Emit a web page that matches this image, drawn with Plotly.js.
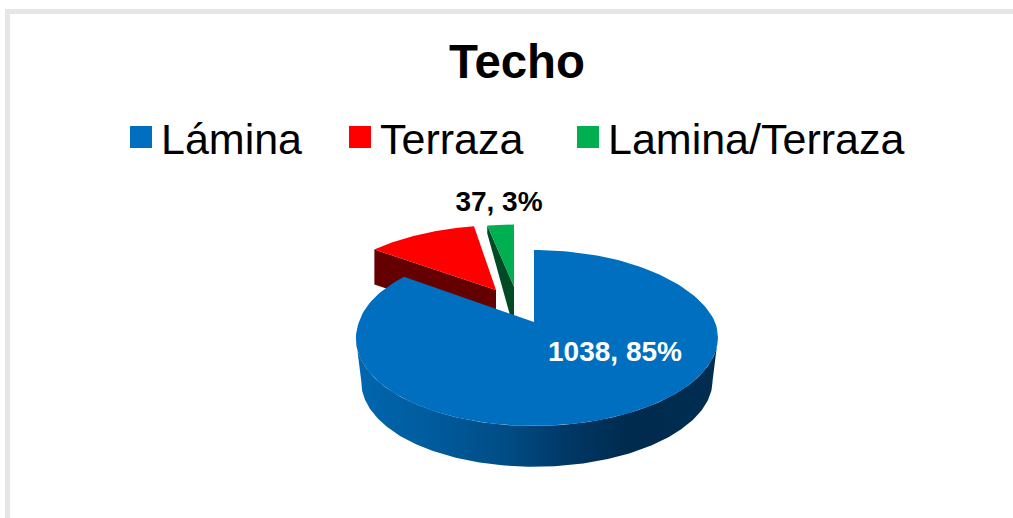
<!DOCTYPE html>
<html><head><meta charset="utf-8">
<script src="https://cdn.plot.ly/plotly-3.0.1.min.js"></script>
<style>html,body{margin:0;padding:0;background:#fff}#c{width:1013px;height:518px}</style>
</head><body><div id="c"></div>
<script>
var categories = ["Lámina", "Terraza", "Lamina/Terraza"];
var values = [1038, 146, 37];
var percents = [85, 12, 3];
var showLabel = [true, false, true];
var faceColors = ["#006FC0", "#FF0000", "#00B050"];
var wallColors = ["#0067AE", "#640000", "#004A25"];
var labelColors = ["#FFFFFF", "#000000", "#000000"];

// view geometry (axis units equal screen pixels)
var CX = 534, CY = 322, A = 178, B = 85, K = 0.182;
var explode = [[0, 0], [-0.229, -0.404], [0, -0.45]];
var shiftX = [0, 0, -20];
var radius = [1, 1.03, 1];
var lean = [3, 0, 0];
var labelPos = [[615, 354], null, [499, 204]];

function proj(u, v, i, o) {
  o = o || {};
  var s = 1 / (1 - K * v), f = o.f || 1;
  var w = Math.min(1, Math.max(0, (v + 0.6) / 0.6));
  return [CX + shiftX[i] + A * f * u * s + lean[i] * u * u * w, CY + (o.dy || 0) + B * f * v * s];
}
function disc(deg, i) {
  var t = deg * Math.PI / 180;
  return [radius[i] * Math.sin(t) + explode[i][0], -radius[i] * Math.cos(t) + explode[i][1]];
}
function xy(pts) {
  return {x: pts.map(function (p) { return p[0]; }), y: pts.map(function (p) { return p[1]; })};
}
var total = values.reduce(function (a, b) { return a + b; }, 0);
var bounds = [], acc = 0;
values.forEach(function (v) { bounds.push([acc * 360 / total, (acc + v) * 360 / total]); acc += v; });

function face(i) {
  var pts = [], b = bounds[i], n = 160;
  pts.push(proj(explode[i][0], explode[i][1], i));
  for (var k = 0; k <= n; k++) {
    var d = disc(b[0] + (b[1] - b[0]) * k / n, i);
    pts.push(proj(d[0], d[1], i));
  }
  pts.push(pts[0]);
  return xy(pts);
}
function poly(pts, color, extra) {
  var c = xy(pts);
  var t = {type: "scatter", mode: "lines", x: c.x, y: c.y, fill: "toself", fillcolor: color,
    line: {width: 0, color: color}, showlegend: false, hoverinfo: "skip"};
  for (var k in extra) t[k] = extra[k];
  return t;
}
function cutWall(i, deg, innerDepth, outerDepth) {
  var a = proj(explode[i][0], explode[i][1], i);
  var d = disc(deg, i), c = proj(d[0], d[1], i);
  var pts = [c, a, [a[0], a[1] + innerDepth], [c[0], c[1] + outerDepth], c];
  return poly(pts, wallColors[i]);
}
function frontWall() {
  var t0 = Math.acos(-K) * 180 / Math.PI, t1 = 360 - t0, top = [], bot = [], n = 200;
  for (var k = 0; k <= n; k++) {
    var d = disc(t0 + (t1 - t0) * k / n, 0);
    top.push(proj(d[0], d[1], 0));
    bot.unshift(proj(d[0], d[1], 0, {dy: 44, f: 0.97}));
  }
  var pts = top.concat(bot);
  pts.push(top[0]);
  return poly(pts, wallColors[0], {
    fillgradient: {type: "horizontal", colorscale: [
      [0, "#0067AE"], [0.2, "#005C9E"], [0.42, "#004C84"], [0.58, "#003866"],
      [0.75, "#002B4E"], [1, "#002D50"]]}
  });
}
function facePoly(i) {
  var f = face(i);
  return {type: "scatter", mode: "lines", x: f.x, y: f.y, fill: "toself", fillcolor: faceColors[i],
    line: {width: 0, color: faceColors[i]}, showlegend: false, hoverinfo: "skip"};
}

var traces = [
  cutWall(1, bounds[1][0], 35, 35), facePoly(1),
  cutWall(2, bounds[2][0], 43, 8), facePoly(2),
  frontWall(), facePoly(0)
];
var legendIds = ["legend", "legend2", "legend3"];
categories.forEach(function (c, i) {
  traces.push({type: "scatter", mode: "markers", x: [null], y: [null], name: c, legend: legendIds[i],
    marker: {symbol: "square", size: 16, color: faceColors[i]}, showlegend: true, hoverinfo: "skip"});
});
var lx = [], ly = [], lt = [], lc = [];
categories.forEach(function (c, i) {
  if (!showLabel[i]) return;
  lx.push(labelPos[i][0]); ly.push(labelPos[i][1]);
  lt.push(values[i] + ", " + percents[i] + "%"); lc.push(labelColors[i]);
});
traces.push({type: "scatter", mode: "text", x: lx, y: ly, text: lt, textposition: "middle center",
  textfont: {family: "Liberation Sans, Arial, sans-serif", size: 28, color: lc, weight: 700},
  showlegend: false, hoverinfo: "skip"});

function lg(x) {
  return {x: x / 1013, y: 1 - 137 / 518, xanchor: "left", yanchor: "middle", orientation: "v",
    bgcolor: "rgba(0,0,0,0)", borderwidth: 0, itemclick: false, itemdoubleclick: false,
    font: {family: "Liberation Sans, Arial, sans-serif", size: 43, color: "#000"}};
}
var layout = {
  width: 1013, height: 518, margin: {l: 0, r: 0, t: 0, b: 0},
  paper_bgcolor: "#fff", plot_bgcolor: "#fff", hovermode: false,
  title: {text: "<b>Techo</b>", x: 517 / 1013, xanchor: "center", y: 1 - 61.5 / 518, yanchor: "middle",
    font: {family: "Liberation Sans, Arial, sans-serif", size: 47.4, color: "#000"}},
  xaxis: {range: [0, 1013], visible: false, fixedrange: true},
  yaxis: {range: [518, 0], visible: false, fixedrange: true},
  legend: lg(121), legend2: lg(340), legend3: lg(568),
  shapes: [{type: "rect", xref: "x", yref: "y", x0: 7.5, y0: 11.5, x1: 1030, y1: 540,
    line: {color: "#E6E6E6", width: 5}, fillcolor: "rgba(0,0,0,0)", layer: "below"}]
};
var gd = document.getElementById("c");
function swatches() {
  gd.querySelectorAll(".legendpoints path.scatterpts").forEach(function (p) {
    p.setAttribute("d", "M11,11H-11V-11H11Z");
  });
}
Plotly.newPlot(gd, traces, layout, {displayModeBar: false, staticPlot: true}).then(function () {
  swatches();
  gd.on("plotly_afterplot", swatches);
});
</script></body></html>
